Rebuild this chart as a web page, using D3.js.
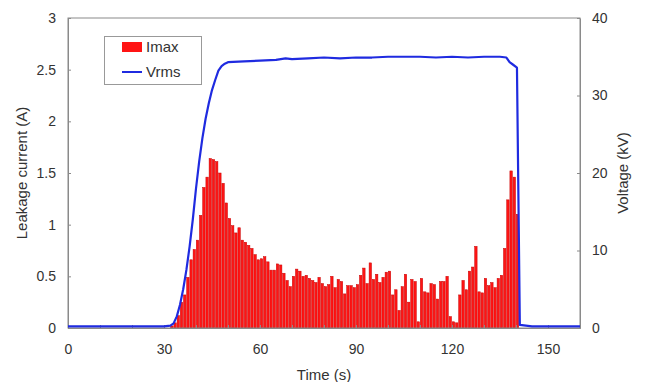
<!DOCTYPE html>
<html><head><meta charset="utf-8">
<script src="https://cdn.jsdelivr.net/npm/d3@7"></script>
<style>
html,body{margin:0;padding:0;background:#fff;}
svg{display:block;font-family:"Liberation Sans",Arial,sans-serif;}
</style></head>
<body>
<svg id="chart" width="645" height="382"></svg>
<script>
// Imax bars: one per second (left edge at t)
const imaxTime = [32,33,34,35,36,37,38,39,40,41,42,43,44,45,46,47,48,49,50,51,52,53,54,55,56,57,58,59,60,
61,62,63,64,65,66,67,68,69,70,71,72,73,74,75,76,77,78,79,80,81,82,83,84,85,86,87,88,89,90,
91,92,93,94,95,96,97,98,99,100,101,102,103,104,105,106,107,108,109,110,111,112,113,114,115,116,117,118,119,120,
121,122,123,124,125,126,127,128,129,130,131,132,133,134,135,136,137,138,139,140];
const imaxValue = [0.02,0.05,0.12,0.25,0.32,0.49,0.66,0.76,0.85,1.09,1.36,1.46,1.64,1.63,1.61,1.50,1.40,1.21,1.06,0.99,0.92,0.97,0.85,0.83,0.80,0.77,0.71,0.66,0.67,
0.69,0.64,0.56,0.56,0.62,0.61,0.53,0.46,0.40,0.50,0.57,0.55,0.50,0.51,0.48,0.46,0.44,0.49,0.43,0.40,0.42,0.50,0.39,0.47,0.45,0.33,0.41,0.41,0.39,0.42,
0.51,0.58,0.43,0.63,0.47,0.52,0.44,0.49,0.54,0.55,0.32,0.37,0.17,0.40,0.52,0.25,0.47,0.45,0.06,0.48,0.35,0.34,0.43,0.42,0.28,0.45,0.45,0.50,0.11,0.06,
0.05,0.32,0.46,0.37,0.55,0.59,0.79,0.35,0.34,0.48,0.41,0.44,0.39,0.48,0.51,0.77,1.24,1.52,1.46,1.10];

// Vrms line
const vTime = [0,10,20,30,32,33,34,35,36,37,38,39,40,41,42,43,44,45,46,47,48,49,50,55,60,65,68,70,75,80,85,90,95,100,105,110,115,120,125,130,135,137,138,139,140.3,141.2,145,160];
const vValue = [0.2,0.2,0.2,0.2,0.3,0.6,1.5,3,5,7.5,10.5,14,18,21.5,24.5,27,29,30.7,32,33.2,33.8,34.1,34.3,34.4,34.5,34.6,34.8,34.7,34.8,34.9,34.8,34.9,34.9,35.0,35.0,35.0,34.9,35.0,34.9,35.0,35.0,34.9,34.3,34.0,33.6,0.4,0.2,0.2];

const xTicks = [0,30,60,90,120,150];
const xMinorTicks = [10,20,40,50,70,80,100,110,130,140];
const yLeftTicks = [0,0.5,1,1.5,2,2.5,3];
const yRightTicks = [0,10,20,30,40];

const svg = d3.select("#chart");
const L = 68, R = 580, T = 18, B = 328;

const x = d3.scaleLinear().domain([0,160]).range([L,R]);
const yL = d3.scaleLinear().domain([0,3]).range([B,T]);
const yR = d3.scaleLinear().domain([0,40]).range([B,T]);

const axisColor = "#8a8a8a";
const textColor = "#333";

// bars
const bw = x(1) - x(0);
svg.append("g").selectAll("rect").data(imaxTime.map((t,i)=>({t, v:imaxValue[i]})))
  .join("rect")
  .attr("x", d => x(d.t) + 0.3)
  .attr("width", bw - 0.8)
  .attr("y", d => yL(d.v))
  .attr("height", d => B - yL(d.v))
  .attr("fill", "#ff1414")
  .attr("stroke", "#c80000")
  .attr("stroke-width", 0.5);

// frame
svg.append("rect").attr("x", L).attr("y", T).attr("width", R-L).attr("height", B-T)
  .attr("fill","none").attr("stroke", axisColor).attr("stroke-width",1);

// axes
const gx = svg.append("g").attr("transform", `translate(0,${B})`)
  .call(d3.axisBottom(x).tickValues(xTicks).tickSizeInner(-3).tickSizeOuter(0).tickPadding(16).tickFormat(d3.format("d")));
const gxm = svg.append("g").attr("transform", `translate(0,${B})`)
  .call(d3.axisBottom(x).tickValues(xMinorTicks).tickSizeInner(-3).tickSizeOuter(0).tickFormat(""));
const gl = svg.append("g").attr("transform", `translate(${L},0)`)
  .call(d3.axisLeft(yL).tickValues(yLeftTicks).tickSizeInner(-3).tickSizeOuter(0).tickPadding(12).tickFormat(d => d3.format("")(d)));
const gr = svg.append("g").attr("transform", `translate(${R},0)`)
  .call(d3.axisRight(yR).tickValues(yRightTicks).tickSizeInner(-3).tickSizeOuter(0).tickPadding(12).tickFormat(d3.format("d")));

[gx,gxm,gl,gr].forEach(g => {
  g.select(".domain").attr("stroke", axisColor);
  g.selectAll(".tick line").attr("stroke", axisColor);
  g.selectAll(".tick text").attr("fill", textColor).attr("font-size", 14).attr("font-family", "Liberation Sans, Arial, sans-serif");
});

// Vrms line
const line = d3.line().x((d,i)=>x(vTime[i])).y((d,i)=>yR(vValue[i]));
svg.append("path").datum(vValue).attr("d", line)
  .attr("fill","none").attr("stroke","#1f2be0").attr("stroke-width",2.2).attr("stroke-linejoin","round");

// axis titles
svg.append("text").attr("transform", `translate(27,${(T+B)/2}) rotate(-90)`)
  .attr("text-anchor","middle").attr("font-size",15).attr("fill",textColor).text("Leakage current (A)");
svg.append("text").attr("transform", `translate(628,${(T+B)/2}) rotate(-90)`)
  .attr("text-anchor","middle").attr("font-size",15).attr("fill",textColor).text("Voltage (kV)");
svg.append("text").attr("x", (L+R)/2).attr("y", 380)
  .attr("text-anchor","middle").attr("font-size",15).attr("fill",textColor).text("Time (s)");

// legend
const lg = svg.append("g");
lg.append("rect").attr("x",104.5).attr("y",36.5).attr("width",97).attr("height",48)
  .attr("fill","#fff").attr("stroke","#999").attr("stroke-width",1);
lg.append("rect").attr("x",122).attr("y",42).attr("width",20).attr("height",10).attr("fill","#ff1414");
lg.append("text").attr("x",146).attr("y",52).attr("font-size",15).attr("fill",textColor).text("Imax");
lg.append("line").attr("x1",122).attr("x2",142).attr("y1",72).attr("y2",72).attr("stroke","#1f2be0").attr("stroke-width",2);
lg.append("text").attr("x",146).attr("y",77).attr("font-size",15).attr("fill",textColor).text("Vrms");
</script>
</body></html>
